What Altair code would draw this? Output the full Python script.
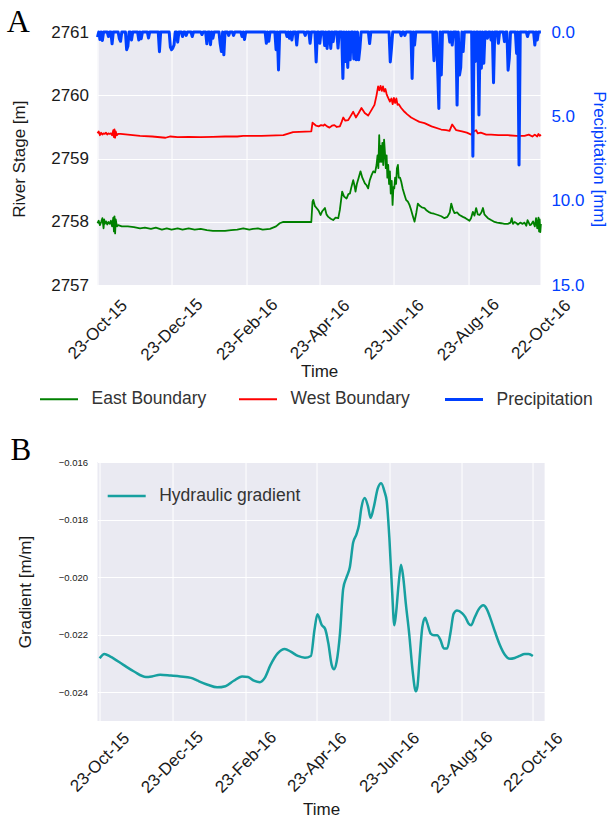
import altair as alt
import pandas as pd

START = pd.Timestamp("2015-10-23")

# ---- Panel A: river stage (m) at the two boundaries, days since 23-Oct-2015 ----
west_day = [
    0, 1, 2, 3, 4, 5, 6, 7, 8, 9,
    10, 11, 12, 13, 13.5, 14, 14.5, 15, 16, 17,
    19, 25, 35, 45, 56, 60, 66, 75, 85, 95,
    105, 115, 120, 135, 153, 161, 176,
    177, 178, 180, 182, 184, 186, 187, 189, 191, 193,
    195, 197, 199.5, 201, 202.3, 204, 206.4, 208, 210.5, 212.7,
    215, 217.3, 220, 222.8, 225.6, 228, 229.7, 231, 232, 233,
    234, 235, 236, 237, 238, 239, 240.7, 242, 243, 244,
    245, 246, 247, 248, 250, 252.7, 255, 258.2, 262, 265,
    269.2, 275, 282.9, 287, 289.8, 292, 295.3, 300, 304, 307.6,
    309, 311.7, 313, 315.5, 320, 324, 330, 337.8, 345, 351.5,
    355, 358, 360, 362, 363, 364, 365,
]
west_stage = [
    2759.40, 2759.43, 2759.37, 2759.41, 2759.38, 2759.40, 2759.39, 2759.41, 2759.38, 2759.40,
    2759.39, 2759.40, 2759.37, 2759.45, 2759.34, 2759.46, 2759.33, 2759.43, 2759.37, 2759.39,
    2759.39, 2759.38, 2759.36, 2759.35, 2759.33, 2759.35, 2759.34, 2759.345, 2759.34, 2759.345,
    2759.35, 2759.35, 2759.36, 2759.36, 2759.37, 2759.42, 2759.43,
    2759.57, 2759.55, 2759.52, 2759.51, 2759.53, 2759.52, 2759.54, 2759.51, 2759.49, 2759.52,
    2759.53, 2759.50, 2759.51, 2759.58, 2759.65, 2759.60, 2759.61, 2759.66, 2759.74, 2759.65,
    2759.72, 2759.80, 2759.72, 2759.68, 2759.77, 2759.85, 2760.00, 2760.14, 2760.08, 2760.15,
    2760.07, 2760.14, 2760.06, 2760.10, 2760.02, 2759.97, 2759.90, 2759.95, 2759.86, 2759.96,
    2759.88, 2759.95, 2759.85, 2759.86, 2759.80, 2759.74, 2759.70, 2759.65, 2759.61, 2759.58,
    2759.56, 2759.51, 2759.46, 2759.45, 2759.44, 2759.54, 2759.45, 2759.43, 2759.41, 2759.38,
    2759.42, 2759.45, 2759.40, 2759.41, 2759.38, 2759.38, 2759.37, 2759.37, 2759.36, 2759.36,
    2759.38, 2759.35, 2759.38, 2759.35, 2759.39, 2759.36, 2759.38,
]

east_day = [
    0, 1, 2, 3, 4, 5, 5.5, 6, 7, 8,
    9, 10, 11, 12, 13, 13.5, 14, 14.5, 15, 16,
    17,
    20, 25, 30, 35, 39, 44, 48, 53, 57, 61,
    66, 70, 75, 80, 85, 90, 95, 100, 105, 110,
    115, 120, 125, 128, 132, 136, 142, 147, 150, 153,
    176,
    177, 177.6, 179, 180.3, 182, 183.6, 185, 187.2, 188.5, 190,
    192, 194, 196, 198.2, 199.5, 201.4, 203, 205, 206.5, 207.8,
    209, 210.5, 211.5, 212.4, 213.5, 215, 216.5, 218, 220.1, 221.5,
    222.8, 224, 225.6, 227, 228.5, 229.7, 230.5, 231.2, 231.9, 232.6,
    233.2, 233.8, 234.5, 235.2, 235.9, 236.6, 237.3, 238, 238.6, 239.3,
    240, 240.7, 241.4, 242.2, 242.9, 243.6, 244.3, 245, 245.8, 246.5,
    247.3, 248, 249, 250, 251.3, 252.7, 254, 255.5, 256.8, 258,
    259.5, 261, 262.5, 263.7, 265, 267, 269.2, 271, 272.5, 274.7,
    277, 280.2, 283, 285.6, 288, 290, 291.2, 292.5, 293.9, 296,
    298, 300.8, 303, 306.2, 307.5, 309, 310.3, 311.7, 313, 314.5,
    316, 317.3, 318.5, 320, 321.4, 324, 326.8, 329, 332.3, 335,
    337.8, 340, 341, 342, 343.3, 345, 346.1, 348, 350, 351.5,
    353, 354, 356, 357, 358.5, 360, 361, 362, 362.5, 363,
    363.5, 364, 364.5, 365,
]
east_stage = [
    2757.98, 2758.02, 2757.95, 2758.00, 2758.06, 2757.90, 2758.04, 2757.97, 2758.01, 2757.96,
    2758.00, 2757.97, 2758.02, 2757.93, 2758.07, 2757.85, 2758.09, 2757.82, 2758.04, 2757.93,
    2757.95,
    2757.93, 2757.93, 2757.92, 2757.90, 2757.91, 2757.89, 2757.91, 2757.88, 2757.90, 2757.88,
    2757.90, 2757.88, 2757.90, 2757.88, 2757.89, 2757.87, 2757.86, 2757.86, 2757.86, 2757.87,
    2757.88, 2757.90, 2757.88, 2757.89, 2757.90, 2757.88, 2757.89, 2757.93, 2757.98, 2758.00,
    2758.00,
    2758.32, 2758.35, 2758.25, 2758.22, 2758.18, 2758.11, 2758.17, 2758.22, 2758.12, 2758.08,
    2758.05, 2758.03, 2758.07, 2758.06, 2758.19, 2758.48, 2758.40, 2758.37, 2758.44, 2758.45,
    2758.55, 2758.66, 2758.58, 2758.48, 2758.60, 2758.70, 2758.80, 2758.70, 2758.61, 2758.58,
    2758.53, 2758.65, 2758.74, 2758.80, 2758.78, 2758.90, 2759.05, 2758.85, 2759.37, 2758.95,
    2759.20, 2758.95, 2759.25, 2758.90, 2759.30, 2759.10, 2758.85, 2759.05, 2758.70, 2758.90,
    2758.60, 2758.80, 2758.45, 2758.65, 2758.27, 2758.55, 2758.53, 2758.70, 2758.60, 2758.85,
    2758.90, 2758.70, 2758.70, 2758.64, 2758.52, 2758.43, 2758.35, 2758.32, 2758.27, 2758.20,
    2758.10, 2758.005, 2758.15, 2758.29, 2758.26, 2758.23, 2758.22, 2758.18, 2758.16, 2758.14,
    2758.13, 2758.11, 2758.09, 2758.06, 2758.08, 2758.15, 2758.29, 2758.20, 2758.14, 2758.15,
    2758.11, 2758.08, 2758.06, 2758.02, 2758.06, 2758.16, 2758.10, 2758.22, 2758.12, 2758.11,
    2758.15, 2758.22, 2758.12, 2758.09, 2758.06, 2758.03, 2758.00, 2757.99, 2757.98, 2757.97,
    2757.97, 2757.99, 2758.06, 2757.97, 2758.00, 2757.98, 2757.96, 2757.99, 2757.97, 2757.99,
    2757.94, 2758.03, 2757.95, 2757.96, 2758.01, 2757.93, 2758.06, 2757.90, 2758.00, 2758.07,
    2757.85, 2758.04, 2757.84, 2757.97,
]

# Daily precipitation (mm); days that are not listed had no rain
rain_day = [
    0, 2, 4, 9, 12, 18, 19, 24, 25, 28,
    34, 36, 42, 51, 60, 61, 62, 63, 66, 70,
    73, 78, 86, 90, 93, 95, 101, 102, 104, 108,
    112, 119, 121, 139, 141, 147, 149, 156, 158, 160,
    164, 171, 175, 180, 183, 187, 189, 192, 194, 198,
    202, 204, 206, 208, 211, 213, 215, 216, 224, 241,
    242, 250, 253, 259, 261, 277, 280, 281, 283, 290,
    292, 296, 298, 299, 301, 309, 311, 314, 316, 318,
    321, 324, 326, 330, 335, 338, 339, 345, 347, 354,
    360, 362,
]
rain_mm = [
    0.30, 0.45, 0.50, 0.27, 0.70, 0.40, 0.55, 1.05, 0.85, 0.47,
    0.47, 0.40, 0.35, 1.17, 0.90, 1.05, 0.95, 0.77, 0.60, 0.27,
    0.20, 0.27, 0.15, 0.70, 0.75, 0.37, 0.70, 1.16, 1.35, 0.20,
    0.20, 0.27, 0.45, 0.67, 0.55, 1.05, 2.25, 0.27, 0.37, 0.47,
    0.77, 0.20, 0.67, 1.77, 0.67, 0.80, 0.97, 0.97, 0.57, 0.95,
    2.75, 1.75, 2.10, 1.65, 1.60, 1.65, 1.65, 0.97, 0.68, 1.77,
    0.97, 0.22, 0.20, 2.75, 0.77, 1.70, 2.15, 4.53, 2.55, 0.60,
    0.77, 4.33, 2.55, 2.10, 1.16, 7.36, 1.75, 4.92, 2.15, 1.85,
    0.37, 0.47, 3.00, 0.67, 0.57, 2.26, 1.55, 1.27, 7.88, 0.27,
    0.77, 0.47,
]

# ---- Panel B: hydraulic gradient (m/m) between the boundaries ----
grad_day = [
    0, 4, 9, 20, 29, 39, 44, 51, 60, 68,
    77, 82, 91, 99, 106, 113, 120, 125, 130, 135,
    139, 144, 150, 156, 161, 167, 173, 178, 181, 183.5,
    187.2, 189.9, 192.7, 195.5, 197.5, 199.7, 202.5, 205.2, 208, 210.8,
    213.6, 216.3, 218.6, 220.5, 223.3, 226.1, 228.3, 230.8, 234.4, 237.2,
    240, 241.9, 244.1, 246.4, 248.3, 249.7, 251.9, 253.9, 255.8, 258,
    260.8, 263.6, 266.4, 267.8, 269.7, 271.9, 274.2, 276.1, 278.9, 281.7,
    284.4, 287.2, 290, 292.8, 295.5, 298.3, 301.1, 305.3, 308.1, 310.8,
    313.1, 315.8, 319.2, 323.3, 326.1, 328.9, 333.1, 337.2, 341.4, 345.6,
    349.7, 353.9, 358.1, 361.4, 365,
]
grad_value = [
    -0.02282, -0.02267, -0.02276, -0.02305, -0.02328, -0.02347, -0.02345, -0.02339, -0.02342, -0.02345,
    -0.02350, -0.02359, -0.02374, -0.02383, -0.02379, -0.02360, -0.02345, -0.02347, -0.02360, -0.02365,
    -0.02351, -0.02305, -0.02265, -0.02250, -0.02259, -0.02274, -0.02280, -0.02274, -0.02184, -0.02129,
    -0.02167, -0.02179, -0.02230, -0.02305, -0.02320, -0.02293, -0.02196, -0.02041, -0.02001, -0.01966,
    -0.01880, -0.01852, -0.01817, -0.01760, -0.01725, -0.01754, -0.01794, -0.01760, -0.01691, -0.01674,
    -0.01703, -0.01737, -0.01863, -0.02047, -0.02167, -0.02127, -0.02024, -0.01957, -0.02001, -0.02093,
    -0.02196, -0.02322, -0.02397, -0.02379, -0.02276, -0.02173, -0.02141, -0.02161, -0.02196, -0.02202,
    -0.02202, -0.02219, -0.02248, -0.02248, -0.02196, -0.02127, -0.02116, -0.02125, -0.02139, -0.02161,
    -0.02167, -0.02142, -0.02113, -0.02098, -0.02110, -0.02139, -0.02190, -0.02236, -0.02270, -0.02284,
    -0.02281, -0.02274, -0.02267, -0.02267, -0.02274,
]

tick_day = [0, 61, 123, 183, 244, 305, 365]
stage_ticks = [2757, 2758, 2759, 2760, 2761]
rain_ticks = [0, 5, 10, 15]
grad_ticks = [-0.024, -0.022, -0.020, -0.018, -0.016]
series_names = ["East Boundary", "West Boundary", "Precipitation"]

GREEN, RED, BLUE, TEAL = "#008000", "#ff0000", "#0040ff", "#17a0a0"
INK = "#1a1a1a"
FONT = "Liberation Sans"
SERIF = "Liberation Serif"


def to_ms(days):
    """Days since the start of the record -> epoch milliseconds (UTC)."""
    return [int((START + pd.Timedelta(days=float(d))).value // 1_000_000) for d in days]


tick_ms = to_ms(tick_day)

stage_df = pd.DataFrame({
    "t": to_ms(east_day) + to_ms(west_day),
    "stage": east_stage + west_stage,
    "series": ["East Boundary"] * len(east_day) + ["West Boundary"] * len(west_day),
})

rain_lookup = dict(zip(rain_day, rain_mm))
all_days = list(range(0, 366))
rain_df = pd.DataFrame({
    "t": to_ms(all_days),
    "mm": [rain_lookup.get(d, 0.0) for d in all_days],
    "series": "Precipitation",
})

grad_df = pd.DataFrame({
    "t": to_ms(grad_day),
    "gradient": grad_value,
    "series": "Hydraulic gradient",
})


def date_axis(label_padding, title_padding):
    return alt.Axis(
        values=tick_ms,
        labelExpr="utcFormat(datum.value, '%d-%b-%y')",
        labelAngle=-45,
        labelAlign="center",
        labelBaseline="middle",
        labelPadding=label_padding,
        labelFlush=False,
        labelOverlap=False,
        labelFontSize=17,
        title="Time",
        titleFontSize=17,
        titlePadding=title_padding,
    )


top_legend = alt.Legend(
    title=None, orient="none", legendX=-59, legendY=347,
    direction="horizontal", columns=3, columnPadding=28,
    symbolType="stroke", symbolSize=1444, labelOffset=12,
    labelFontSize=17.5, labelColor="#333333",
)

x_top = alt.X(
    "t:T",
    scale=alt.Scale(type="utc", domain=[tick_ms[0], tick_ms[-1]], nice=False),
    axis=date_axis(44, 0),
)
color_top = alt.Color(
    "series:N",
    scale=alt.Scale(domain=series_names, range=[GREEN, RED, BLUE]),
    legend=top_legend,
)
width_top = alt.StrokeWidth(
    "series:N",
    scale=alt.Scale(type="ordinal", domain=series_names, range=[1.8, 1.8, 3.0]),
    legend=top_legend,
)

stage_lines = alt.Chart(stage_df).mark_line(strokeJoin="round").encode(
    x=x_top,
    y=alt.Y(
        "stage:Q",
        scale=alt.Scale(domain=[2757, 2761], nice=False, zero=False),
        axis=alt.Axis(
            values=stage_ticks, format="d", labelFontSize=17, labelPadding=9,
            title="River Stage [m]", titleFontSize=17, titlePadding=22,
        ),
    ),
    color=color_top,
    strokeWidth=width_top,
)

rain_line = alt.Chart(rain_df).mark_line(strokeJoin="round", clip=False).encode(
    x=x_top,
    y=alt.Y(
        "mm:Q",
        scale=alt.Scale(domain=[0, 15], reverse=True, nice=False, zero=False),
        axis=alt.Axis(
            orient="right", values=rain_ticks, format=".1f",
            labelFontSize=17, labelPadding=10, labelColor=BLUE,
            title="Precipitation [mm]", titleFontSize=17, titlePadding=6,
            titleColor=BLUE,
        ),
    ),
    color=color_top,
    strokeWidth=width_top,
)

top = alt.layer(stage_lines, rain_line).resolve_scale(y="independent").properties(
    width=443.4,
    height=253.3,
    title=alt.TitleParams(
        "A", anchor="start", frame="group", dx=-90.8, dy=32, offset=-8.5,
        baseline="alphabetic", font=SERIF, fontSize=32, fontWeight="normal",
        color="black",
    ),
)

bottom = alt.Chart(grad_df).mark_line(interpolate="monotone", strokeWidth=2.5).encode(
    x=alt.X(
        "t:T",
        scale=alt.Scale(type="utc", domain=to_ms([-1.8, 374.9]), nice=False),
        axis=date_axis(41, 6),
    ),
    y=alt.Y(
        "gradient:Q",
        scale=alt.Scale(domain=[-0.025, -0.016], nice=False, zero=False),
        axis=alt.Axis(
            values=grad_ticks, format=".3f", labelFontSize=9.5, labelPadding=10,
            title="Gradient [m/m]", titleFontSize=17, titlePadding=24,
        ),
    ),
    color=alt.Color(
        "series:N",
        scale=alt.Scale(domain=["Hydraulic gradient"], range=[TEAL]),
        legend=alt.Legend(
            title=None, orient="none", legendX=8.7, legendY=13.5,
            symbolType="stroke", symbolSize=1444, symbolStrokeWidth=2.5,
            labelOffset=12, labelFontSize=17.5, labelColor="#333333",
        ),
    ),
).properties(
    width=447.1,
    height=259,
    title=alt.TitleParams(
        "B", anchor="start", frame="group", dx=-87.1, dy=32, offset=-2.3,
        baseline="alphabetic", font=SERIF, fontSize=31, fontWeight="normal",
        color="black",
    ),
)

chart = (
    alt.vconcat(top, bottom, spacing=27)
    .resolve_scale(color="independent", strokeWidth="independent")
    .properties(padding={"left": 6.5, "top": 5, "right": 0, "bottom": 0})
    .configure_view(fill="#EAEAF2", stroke=None)
    .configure_axis(
        grid=True, gridColor="white", gridWidth=1, domain=False, ticks=False,
        labelFont=FONT, titleFont=FONT, labelColor=INK, titleColor=INK,
        titleFontWeight="normal",
    )
    .configure_legend(labelFont=FONT, padding=0)
    .configure_title(font=SERIF)
)

chart.save("out.html", embed_options={"renderer": "svg", "actions": False})
